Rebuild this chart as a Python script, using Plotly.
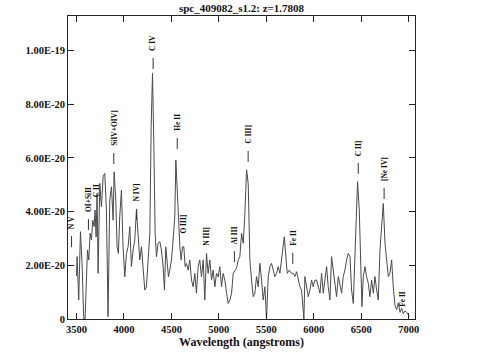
import plotly.graph_objects as go

TITLE = "spc_409082_s1.2: z=1.7808"
REDSHIFT = 1.7808

wavelength = [
    3500, 3507, 3524, 3542, 3559, 3577, 3591, 3602, 3616, 3630, 3644, 3658, 3672, 3686, 3696,
    3707, 3717, 3728, 3746, 3763, 3781, 3798, 3816, 3833, 3851, 3869, 3886, 3897, 3914, 3928,
    3942, 3956, 3974, 3991, 4009, 4027, 4044, 4062, 4079, 4097, 4114, 4132, 4150, 4167, 4185,
    4202, 4220, 4237, 4255, 4273, 4287, 4301, 4315, 4329, 4343, 4360, 4378, 4395, 4413, 4427,
    4441, 4455, 4469, 4483, 4501, 4518, 4536, 4547, 4561, 4575, 4589, 4603, 4617, 4631, 4645,
    4659, 4677, 4694, 4712, 4729, 4747, 4764, 4782, 4799, 4817, 4835, 4852, 4870, 4887, 4905,
    4923, 4940, 4958, 4975, 4993, 5010, 5028, 5045, 5063, 5081, 5098, 5116, 5134, 5151, 5169,
    5186, 5204, 5221, 5239, 5257, 5274, 5292, 5309, 5327, 5344, 5362, 5379, 5397, 5415, 5432,
    5450, 5467, 5485, 5502, 5520, 5538, 5555, 5573, 5590, 5608, 5625, 5643, 5661, 5678, 5689,
    5706, 5720, 5741, 5766, 5783, 5801, 5819, 5836, 5854, 5871, 5882, 5896, 5906, 5924, 5942,
    5959, 5977, 5994, 6012, 6029, 6047, 6065, 6082, 6100, 6117, 6135, 6152, 6170, 6187, 6205,
    6223, 6240, 6258, 6275, 6293, 6310, 6328, 6346, 6363, 6381, 6398, 6416, 6433, 6451, 6461,
    6479, 6493, 6507, 6521, 6539, 6556, 6574, 6591, 6609, 6627, 6644, 6662, 6679, 6697, 6714,
    6732, 6750, 6767, 6785, 6802, 6820, 6837, 6855, 6873, 6890, 6908, 6925, 6943, 6960, 6978,
    6995, 7005,
]
flux = [
    1.60, 2.32, 0.71, 3.25, 2.07, 0.00, 0.00, 1.57, 2.57, 2.20, 3.19, 2.94, 3.68, 3.44, 4.06,
    3.06, 4.68, 1.70, 5.05, 4.18, 5.30, 5.42, 4.06, 0.09, 4.43, 4.92, 3.68, 5.48, 4.43, 2.69,
    2.44, 3.81, 4.80, 2.69, 1.57, 2.44, 2.69, 3.44, 1.95, 2.57, 2.94, 4.06, 3.06, 2.20, 2.69,
    1.95, 1.08, 1.20, 2.20, 3.19, 7.16, 9.14, 6.54, 3.19, 2.32, 2.82, 2.88, 2.57, 1.95, 1.08,
    2.69, 2.20, 1.57, 1.82, 2.20, 2.94, 3.81, 5.92, 4.68, 3.31, 2.69, 2.20, 2.69, 2.69, 1.95,
    2.07, 1.82, 2.20, 1.45, 1.20, 1.70, 0.96, 1.95, 2.20, 1.57, 2.20, 0.71, 2.44, 1.70, 2.20,
    1.45, 1.82, 1.20, 1.70, 1.57, 1.95, 1.20, 1.70, 1.45, 0.96, 0.58, 0.71, 0.96, 1.70, 1.82,
    1.89, 2.20, 2.32, 3.19, 2.82, 3.93, 5.55, 5.05, 2.20, 1.45, 0.83, 0.96, 1.58, 1.20, 2.07,
    1.45, 0.71, 1.20, 0.00, 1.58, 1.95, 2.07, 1.82, 1.58, 1.70, 1.95, 1.70, 2.32, 2.82, 3.06,
    2.32, 1.70, 1.82, 1.70, 1.70, 1.58, 1.76, 1.45, 1.20, 1.08, 0.46, 0.00, 1.58, 1.20, 0.83,
    1.08, 1.45, 1.20, 1.45, 1.45, 1.20, 0.96, 1.70, 0.96, 1.45, 1.95, 1.20, 0.71, 2.32, 1.82,
    1.20, 0.83, 1.58, 1.20, 0.96, 1.58, 1.82, 2.20, 2.44, 2.32, 1.08, 0.58, 2.20, 4.43, 5.11,
    4.06, 2.32, 0.46, 1.58, 1.95, 1.58, 1.33, 0.83, 1.45, 0.96, 1.58, 1.08, 0.71, 2.57, 3.44,
    4.30, 2.82, 2.20, 1.58, 1.70, 2.20, 1.20, 0.50, 0.35, 0.60, 0.25, 0.40, 0.20, 0.30, 0.25,
    0.15, 0.10,
]

# Emission-line identifications: name, rest wavelength, flux level of label base (1e-20)
line_names = ["N V", "OI+SiII", "C II", "SiIV+OIV]", "N IV]", "C IV", "He II", "O III]",
              "N III]", "Al III", "C III]", "Fe II", "C II]", "[Ne IV]", "Fe II"]
line_rest = [1240.1, 1304.0, 1335.0, 1400.0, 1486.5, 1549.0, 1640.4, 1663.0,
             1750.0, 1857.0, 1909.0, 2078.0, 2326.0, 2424.0, 2495.0]
label_flux = [3.31, 3.94, 4.50, 6.40, 4.32, 9.94, 6.96, 3.13,
              2.68, 2.75, 6.48, 2.68, 6.03, 5.10, 0.41]
show_tick = [True, True, False, True, True, True, True, False,
             False, True, True, True, True, True, False]

y_ticks = [0, 2e-20, 4e-20, 6e-20, 8e-20, 1e-19]
y_tick_text = ["0", "2.00E-20", "4.00E-20", "6.00E-20", "8.00E-20", "1.00E-19"]
x_ticks = [3500, 4000, 4500, 5000, 5500, 6000, 6500, 7000]

SCALE = 1e-20
FONT = "Liberation Serif"

fig = go.Figure()
fig.add_trace(go.Scatter(
    x=wavelength, y=[f * SCALE for f in flux], mode="lines",
    line=dict(color="#4a4a4a", width=1), showlegend=False, hoverinfo="skip",
))

for name, rest, lf, tk in zip(line_names, line_rest, label_flux, show_tick):
    lam = rest * (1 + REDSHIFT)
    fig.add_annotation(
        x=lam, y=lf * SCALE, xref="x", yref="y", text="<b>" + name + "</b>",
        textangle=-90, showarrow=False, xanchor="center", yanchor="bottom",
        font=dict(family=FONT, size=7.5, color="#111"), borderpad=0,
    )
    if tk:
        fig.add_shape(
            type="line", xref="x", yref="y", ysizemode="pixel",
            x0=lam, x1=lam, yanchor=lf * SCALE, y0=-6, y1=-17,
            line=dict(color="#333", width=1),
        )

axis_common = dict(
    showline=True, linecolor="#222", linewidth=1, mirror="ticks",
    ticks="inside", ticklen=6, tickcolor="#222", showgrid=False, zeroline=False,
    tickfont=dict(family=FONT, size=10.5, color="#111"),
)

fig.update_layout(
    width=483, height=358,
    margin=dict(l=68, r=68, t=16, b=39),
    paper_bgcolor="white", plot_bgcolor="white",
    title=dict(text="<b>" + TITLE + "</b>", x=0.5, xanchor="center", y=0.978, yanchor="middle",
               font=dict(family=FONT, size=11, color="#111")),
    xaxis=dict(range=[3411, 7066], tickvals=x_ticks,
               ticktext=["<b>%d</b>" % v for v in x_ticks],
               title=dict(text="<b>Wavelength (angstroms)</b>", standoff=1,
                          font=dict(family=FONT, size=12, color="#111")),
               **axis_common),
    yaxis=dict(range=[0, 1.128e-19], tickvals=y_ticks,
               ticktext=["<b>" + t + "</b>" for t in y_tick_text],
               **axis_common),
)

fig.write_html("out.html", config={"displayModeBar": False},
               post_script="document.body.style.margin='0';document.body.style.overflow='hidden';")
